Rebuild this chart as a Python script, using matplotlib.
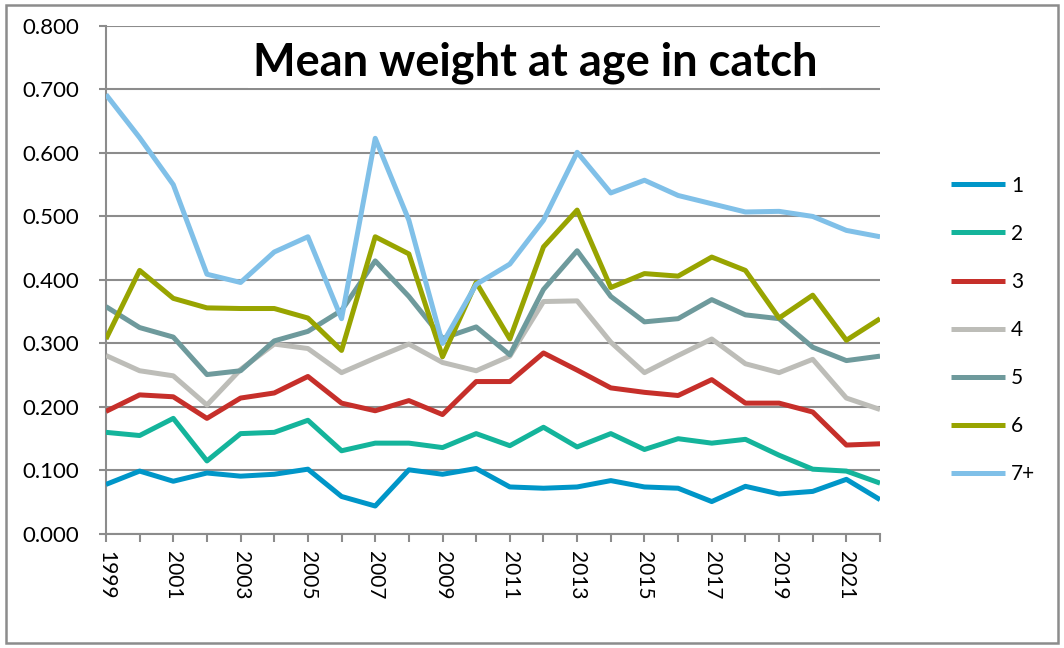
import numpy as np
import matplotlib
matplotlib.use('Agg')
import matplotlib.pyplot as plt
from matplotlib.patches import Rectangle

plt.rcParams['font.family'] = ['Lato', 'DejaVu Sans']

# mean weight (kg) per age group, catch data 1999-2022
years = list(range(1999, 2023))
age_1 = [0.078, 0.099, 0.083, 0.096, 0.091, 0.094, 0.102, 0.059, 0.044, 0.101, 0.094, 0.103,
         0.074, 0.072, 0.074, 0.084, 0.074, 0.072, 0.051, 0.075, 0.063, 0.067, 0.086, 0.054]
age_2 = [0.160, 0.155, 0.182, 0.115, 0.158, 0.160, 0.179, 0.131, 0.143, 0.143, 0.136, 0.158,
         0.139, 0.168, 0.137, 0.158, 0.133, 0.150, 0.143, 0.149, 0.124, 0.102, 0.099, 0.080]
age_3 = [0.193, 0.219, 0.216, 0.182, 0.214, 0.222, 0.248, 0.206, 0.194, 0.210, 0.188, 0.240,
         0.240, 0.285, 0.258, 0.230, 0.223, 0.218, 0.243, 0.206, 0.206, 0.192, 0.140, 0.142]
age_4 = [0.281, 0.257, 0.249, 0.203, 0.259, 0.299, 0.292, 0.254, 0.277, 0.299, 0.270, 0.257,
         0.280, 0.366, 0.367, 0.302, 0.254, 0.281, 0.307, 0.268, 0.254, 0.275, 0.214, 0.196]
age_5 = [0.358, 0.325, 0.310, 0.251, 0.257, 0.304, 0.319, 0.352, 0.430, 0.374, 0.308, 0.326,
         0.282, 0.385, 0.446, 0.374, 0.334, 0.339, 0.369, 0.345, 0.339, 0.294, 0.273, 0.280]
age_6 = [0.307, 0.415, 0.371, 0.356, 0.355, 0.355, 0.340, 0.289, 0.468, 0.441, 0.279, 0.396,
         0.307, 0.452, 0.510, 0.388, 0.410, 0.406, 0.436, 0.415, 0.340, 0.376, 0.305, 0.339]
age_7p = [0.692, 0.624, 0.550, 0.409, 0.396, 0.444, 0.468, 0.339, 0.623, 0.494, 0.300, 0.393,
          0.425, 0.494, 0.601, 0.537, 0.557, 0.533, 0.520, 0.507, 0.508, 0.500, 0.478, 0.468]

labels = ['1', '2', '3', '4', '5', '6', '7+']
series = [age_1, age_2, age_3, age_4, age_5, age_6, age_7p]
colors = ['#0096c8', '#14b49b', '#c62f2a', '#bdbdb8', '#6e9a9c', '#98a400', '#80c0e8']

fig = plt.figure(figsize=(10.64, 6.48), dpi=100)
ax = fig.add_axes([0.0996, 0.176, 0.7275, 0.784])

for vals, lab, col in zip(series, labels, colors):
    ax.plot(years, vals, color=col, lw=3.6, label=lab, solid_joinstyle='round',
            solid_capstyle='butt', zorder=3)

ax.set_xlim(years[0], years[-1])
ax.set_ylim(0, 0.8)
ax.set_yticks(np.arange(0, 0.81, 0.1))
ax.set_yticklabels([f'{v:.3f}' for v in np.arange(0, 0.81, 0.1)])
ax.set_xticks(years)
ax.set_xticklabels([str(y) if (y - 1999) % 2 == 0 else '' for y in years],
                   rotation=-90, fontsize=15)
ax.tick_params(axis='y', labelsize=16, length=5, color='#8c8c8c', width=1.5, pad=14)
ax.tick_params(axis='x', length=6, color='#8c8c8c', width=1.5, pad=6)

ax.grid(axis='y', color='#8c8c8c', lw=1.5, zorder=0)
for s in ['top', 'right']:
    ax.spines[s].set_visible(False)
for s in ['left', 'bottom']:
    ax.spines[s].set_color('#8c8c8c')
    ax.spines[s].set_linewidth(1.5)

ax.text(0.554, 0.928, 'Mean weight at age in catch', transform=ax.transAxes,
        ha='center', va='center', fontsize=32.5, fontweight='bold',
        bbox=dict(facecolor='white', edgecolor='none', pad=3), zorder=4)

fig.legend(loc='upper left', bbox_to_anchor=(0.876, 0.758), frameon=False,
           fontsize=15, handlelength=2.6, handletextpad=0.3, labelspacing=1.35)

fig.patches.append(Rectangle((0.006, 0.007), 0.988, 0.985, transform=fig.transFigure,
                             fill=False, edgecolor='#8c8c8c', lw=1.8))

fig.savefig('out.png', dpi=100)
